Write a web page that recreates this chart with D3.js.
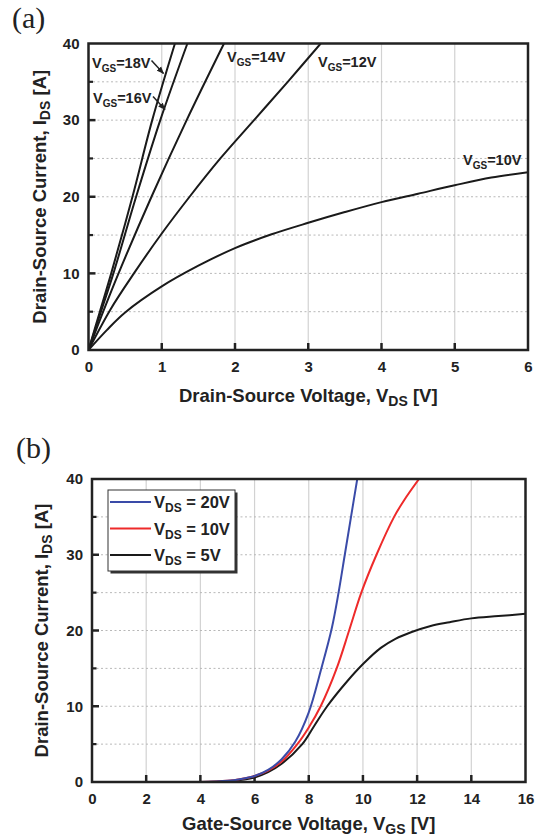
<!DOCTYPE html>
<html lang="en">
<head>
<meta charset="UTF-8" />
<title>MOSFET output and transfer characteristics</title>
<script src="https://d3js.org/d3.v7.min.js"></script>
<style>
  body { margin: 0; background: #fff; }
  svg { display: block; }
  .tick text { font-family: "Liberation Sans", Arial, sans-serif; font-weight: bold; font-size: 15px; fill: #222; }
  .axis path.domain { display: none; }
  .title { font-family: "Liberation Sans", Arial, sans-serif; font-weight: bold; font-size: 18.5px; fill: #222; }
  .note { font-family: "Liberation Sans", Arial, sans-serif; font-weight: bold; font-size: 14.5px; fill: #222; }
  .panel { font-family: "Liberation Serif", "Times New Roman", serif; font-size: 30px; fill: #222; }
</style>
</head>
<body>
<svg width="536" height="838"></svg>
<script>
  // ---- panel (a): output characteristics, I_DS vs V_DS ----
  const vds10 = [0, 0.25, 0.5, 1, 1.5, 2, 2.5, 3, 3.5, 4, 4.5, 5, 5.5, 6];
  const ids10 = [0, 2.6, 4.9, 8.3, 11.0, 13.3, 15.1, 16.6, 18.0, 19.3, 20.4, 21.5, 22.5, 23.2];
  const vds12 = [0, 0.3, 0.62, 1.0, 1.38, 1.8, 2.26, 2.72, 3.17];
  const ids12 = [0, 5.3, 10, 15.2, 20, 25, 30, 35, 40];
  const vds14 = [0, 0.2, 0.41, 0.86, 1.34, 1.85];
  const ids14 = [0, 5, 10, 20, 30, 40];
  const vds16 = [0, 0.17, 0.34, 0.65, 0.98, 1.35];
  const ids16 = [0, 5, 10, 20, 30, 40];
  const vds18 = [0, 0.155, 0.31, 0.6, 0.87, 1.18];
  const ids18 = [0, 5, 10, 20, 30, 40];
  const xTicksA = [0, 1, 2, 3, 4, 5, 6];

  // ---- panel (b): transfer characteristics, I_DS vs V_GS ----
  const vgs20 = [0, 2, 4, 5, 5.5, 6, 6.5, 7, 7.5, 8, 8.45, 8.85, 9.1, 9.33, 9.56, 9.79];
  const ids20 = [0, 0, 0, 0.15, 0.4, 0.8, 1.6, 3.0, 5.3, 9.2, 14.8, 20.3, 25, 30, 35, 40];
  const vgs10 = [0, 2, 4, 5, 5.5, 6, 6.5, 7, 7.58, 8, 8.44, 9.03, 9.49, 9.94, 10.5, 11.15, 11.52, 12.07];
  const ids10b = [0, 0, 0, 0.15, 0.4, 0.8, 1.5, 2.7, 5, 7.2, 10, 15, 20, 25, 30, 35, 37.2, 40];
  const vgs5 = [0, 2, 4, 5, 6, 6.5, 7, 7.76, 8.2, 8.68, 9.42, 10.04, 10.66, 11.2, 11.8, 12.5, 13.2, 14, 15, 16];
  const ids5 = [0, 0, 0, 0.1, 0.6, 1.3, 2.4, 5, 7.4, 10, 13.3, 15.7, 17.7, 18.9, 19.8, 20.6, 21.1, 21.6, 21.9, 22.2];
  const xTicksB = [0, 2, 4, 6, 8, 10, 12, 14, 16];

  const yTicks = [0, 10, 20, 30, 40];
  const yMinor = [5, 15, 25, 35];
  const yGrid = [5, 10, 15, 20, 25, 30, 35];

  const svg = d3.select("svg");

  // text with subscripts: parts = [[str, isSub], ...]
  function rich(g, x, y, parts, cls, subSize, anchor) {
    const t = g.append("text").attr("class", cls).attr("x", x).attr("y", y)
      .attr("text-anchor", anchor || "start");
    let down = false;
    parts.forEach(([s, sub]) => {
      const sp = t.append("tspan").text(s);
      if (sub && !down) { sp.attr("dy", 4).style("font-size", subSize + "px"); down = true; }
      else if (sub) { sp.style("font-size", subSize + "px"); }
      else if (down) { sp.attr("dy", -4); down = false; }
    });
    return t;
  }

  function frame(x, y, xTicks, gridX, xTitle, yTitleX, xTitleY) {
    const [x0, x1] = x.range(), [y0, y1] = y.range();
    const g = svg.append("g");

    // grid
    g.append("g").selectAll("line").data(gridX).join("line")
      .attr("x1", d => x(d)).attr("x2", d => x(d)).attr("y1", y0).attr("y2", y1)
      .attr("stroke", "#d2d2d2").attr("stroke-width", 1.2);
    g.append("g").selectAll("line").data(yGrid).join("line")
      .attr("x1", x0).attr("x2", x1).attr("y1", d => y(d)).attr("y2", d => y(d))
      .attr("stroke", "#b8b8b8").attr("stroke-width", 1).attr("stroke-dasharray", "2,2.5");

    // axis labels
    g.append("g").attr("class", "axis").attr("transform", `translate(0,${y0})`)
      .call(d3.axisBottom(x).tickValues(xTicks).tickSize(0).tickPadding(11).tickFormat(d3.format("d")));
    g.append("g").attr("class", "axis").attr("transform", `translate(${x0},0)`)
      .call(d3.axisLeft(y).tickValues(yTicks).tickSize(0).tickPadding(9));

    // inward tick marks
    const inner = xTicks.slice(1, -1);
    g.append("g").selectAll("line").data(inner).join("line")
      .attr("x1", d => x(d)).attr("x2", d => x(d)).attr("y1", y0).attr("y2", y0 - 7)
      .attr("stroke", "#222").attr("stroke-width", 2.5);
    g.append("g").selectAll("line").data([10, 20, 30]).join("line")
      .attr("x1", x0).attr("x2", x0 + 7).attr("y1", d => y(d)).attr("y2", d => y(d))
      .attr("stroke", "#222").attr("stroke-width", 2.5);
    g.append("g").selectAll("line").data(yMinor).join("line")
      .attr("x1", x0).attr("x2", x0 + 4.5).attr("y1", d => y(d)).attr("y2", d => y(d))
      .attr("stroke", "#222").attr("stroke-width", 2.2);

    // axis titles
    rich(g, (x0 + x1) / 2, xTitleY, xTitle, "title", 14, "middle");
    const yt = rich(g, 0, 0, [["Drain-Source Current, I", false], ["DS", true], [" [A]", false]], "title", 14, "middle");
    yt.attr("transform", `translate(${yTitleX},${(y0 + y1) / 2}) rotate(-90)`);
    return g;
  }

  function drawFrameBox(x, y) {
    const [x0, x1] = x.range(), [y0, y1] = y.range();
    svg.append("rect").attr("x", x0).attr("y", y1).attr("width", x1 - x0).attr("height", y0 - y1)
      .attr("fill", "none").attr("stroke", "#222").attr("stroke-width", 2.5);
  }

  // ===== panel (a) =====
  const xA = d3.scaleLinear().domain([0, 6]).range([88.5, 528]);
  const yA = d3.scaleLinear().domain([0, 40]).range([350, 43.5]);
  frame(xA, yA, xTicksA, [1, 2, 3, 4, 5],
    [["Drain-Source Voltage, V", false], ["DS", true], [" [V]", false]], 46, 402);
  svg.append("text").attr("class", "panel").attr("x", 12).attr("y", 28).text("(a)");

  svg.append("clipPath").attr("id", "clipA").append("rect")
    .attr("x", 88.5).attr("y", 43.5).attr("width", 439.5).attr("height", 306.5);
  const lineA = d3.line().x(d => xA(d[0])).y(d => yA(d[1])).curve(d3.curveCatmullRom.alpha(0.5));
  const seriesA = [[vds10, ids10], [vds12, ids12], [vds14, ids14], [vds16, ids16], [vds18, ids18]];
  svg.append("g").attr("clip-path", "url(#clipA)")
    .selectAll("path").data(seriesA).join("path")
    .attr("d", s => lineA(d3.zip(s[0], s[1])))
    .attr("fill", "none").attr("stroke", "#1a1a1a").attr("stroke-width", 2);
  drawFrameBox(xA, yA);

  // annotations
  const notes = svg.append("g");
  const vgsLabel = v => [["V", false], ["GS", true], ["=" + v + "V", false]];
  rich(notes, 92, 68, vgsLabel(18), "note", 10);
  rich(notes, 93, 103, vgsLabel(16), "note", 10);
  rich(notes, 227, 62, vgsLabel(14), "note", 10);
  rich(notes, 318, 67, vgsLabel(12), "note", 10);
  rich(notes, 463, 165, vgsLabel(10), "note", 10);

  svg.append("defs").append("marker").attr("id", "arr")
    .attr("viewBox", "0 0 10 10").attr("refX", 9).attr("refY", 5)
    .attr("markerWidth", 5).attr("markerHeight", 5).attr("orient", "auto")
    .append("path").attr("d", "M0,1L10,5L0,9Z").attr("fill", "#222");
  [[[151.5, 60.5], [163.5, 73.5]], [[153, 96.5], [165, 109.5]]].forEach(([a, b]) => {
    notes.append("line").attr("x1", a[0]).attr("y1", a[1]).attr("x2", b[0]).attr("y2", b[1])
      .attr("stroke", "#222").attr("stroke-width", 1.5).attr("marker-end", "url(#arr)");
  });

  // ===== panel (b) =====
  const xB = d3.scaleLinear().domain([0, 16]).range([92, 525.5]);
  const yB = d3.scaleLinear().domain([0, 40]).range([782, 479]);
  frame(xB, yB, xTicksB, [2, 4, 6, 8, 10, 12, 14],
    [["Gate-Source Voltage, V", false], ["GS", true], [" [V]", false]], 48, 830);
  svg.append("text").attr("class", "panel").attr("x", 16).attr("y", 458).text("(b)");

  svg.append("clipPath").attr("id", "clipB").append("rect")
    .attr("x", 92).attr("y", 479).attr("width", 433.5).attr("height", 303);
  const lineB = d3.line().x(d => xB(d[0])).y(d => yB(d[1])).curve(d3.curveCatmullRom.alpha(0.5));
  const seriesB = [
    { v: vgs5, i: ids5, c: "#1a1a1a", lab: "5V" },
    { v: vgs10, i: ids10b, c: "#ee2a2a", lab: "10V" },
    { v: vgs20, i: ids20, c: "#3a4ba8", lab: "20V" }
  ];
  svg.append("g").attr("clip-path", "url(#clipB)")
    .selectAll("path").data(seriesB).join("path")
    .attr("d", s => lineB(d3.zip(s.v, s.i)))
    .attr("fill", "none").attr("stroke", s => s.c).attr("stroke-width", 2);
  drawFrameBox(xB, yB);

  // legend
  const lg = svg.append("g");
  lg.append("rect").attr("x", 110.5).attr("y", 492.5).attr("width", 127).attr("height", 81).attr("fill", "#333");
  lg.append("rect").attr("x", 108).attr("y", 490).attr("width", 127).attr("height", 81)
    .attr("fill", "#fff").attr("stroke", "#333").attr("stroke-width", 1);
  seriesB.slice().reverse().forEach((s, k) => {
    const yy = 502 + k * 26.5;
    lg.append("line").attr("x1", 110).attr("x2", 151).attr("y1", yy).attr("y2", yy)
      .attr("stroke", s.c).attr("stroke-width", 2);
    rich(lg, 154, yy + 6, [["V", false], ["DS", true], [" = " + s.lab, false]], "note", 12).style("font-size", "16.5px");
  });
</script>
</body>
</html>
